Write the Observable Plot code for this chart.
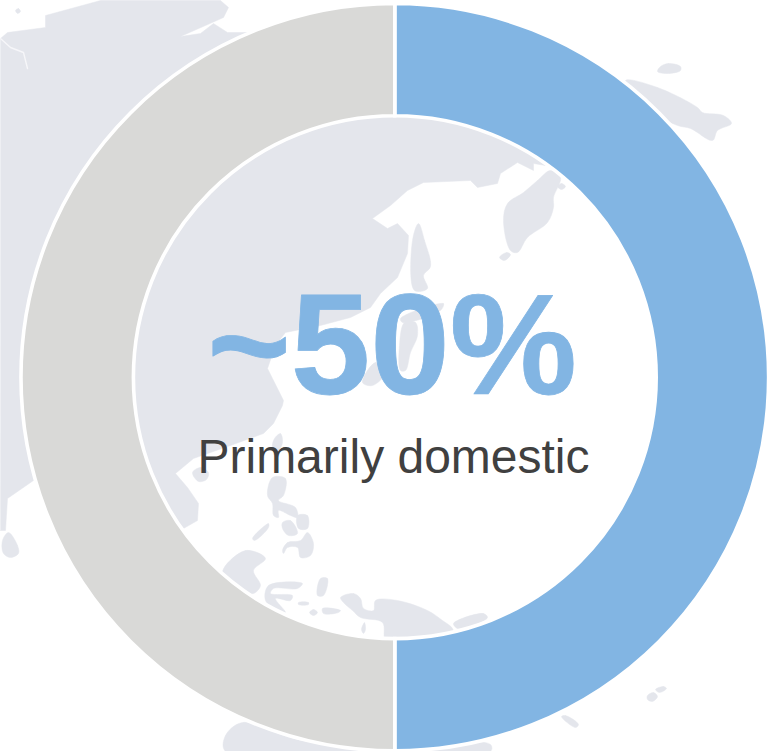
<!DOCTYPE html>
<html>
<head>
<meta charset="utf-8">
<style>html,body{margin:0;padding:0;background:#fff}svg{display:block}</style>
<script src="https://cdn.jsdelivr.net/npm/d3@7"></script>
<script src="https://cdn.jsdelivr.net/npm/@observablehq/plot@0.6"></script>
</head>
<body>
<div id="chart"></div>
<script>
const categories = ["Primarily domestic", "Other"];
const shares = [50, 50];
const sliceColors = ["#82b5e3", "#d9d9d7"];
const headline = "~50%";
const subhead = "Primarily domestic";

const eurasia = [[0,38],[7,32],[45,27],[45,15],[100,0],[220,0],[228,7],[223,17],[205,25],[180,36],[200,33],[213,23],[227,32],[247,32],[300,40],[395,60],[545,165],[533,163],[533,170],[517,162],[500,173],[497,183],[477,187],[470,180],[423,182],[407,190],[390,205],[372,218],[387,228],[397,223],[408,235],[407,253],[397,277],[380,293],[370,307],[350,317],[320,325],[305,328],[285,332],[275,345],[267,368],[272,378],[283,400],[282,405],[273,423],[263,433],[230,445],[210,452],[193,458],[175,473],[187,487],[198,503],[197,520],[183,528],[150,510],[33,480],[7,498],[5,530],[0,530]];
const korea = [[418,223],[424,240],[430,266],[423,275],[427,288],[414,290],[412,240]];
const kyushu = [[404,322],[415,322],[417,335],[410,352],[405,370],[400,370],[399,345]];
const ryukyu = [[400,318],[443,303],[440,310],[402,322]];
const shoal = [[362,382],[375,362],[385,372],[372,385]];
const sakhalin = [[550,170],[537,180],[523,192],[507,203],[503,220],[510,250],[517,252],[527,237],[547,222],[553,207],[553,197],[560,177]];
const kamchatka = [[625,80],[657,87],[697,107],[702,112],[723,115],[731,123],[717,130],[712,140],[690,128],[677,125],[650,110]];
const srilanka = [[8,532],[17,545],[18,553],[10,557],[3,553],[2,540]];
const luzon = [[272,477],[285,478],[283,495],[278,500],[295,507],[297,517],[290,515],[278,510],[278,517],[273,515],[272,503],[267,495]];
const samar = [[297,515],[307,515],[307,528],[298,528]];
const panay = [[282,522],[290,520],[297,533],[288,535],[282,528]];
const mindanao = [[282,550],[287,542],[300,540],[307,532],[313,543],[310,555],[300,557],[297,547],[287,547],[283,553]];
const palawan = [[252,538],[268,523],[268,527],[254,540]];
const borneo = [[222,572],[245,550],[265,558],[253,570],[260,585],[253,593],[240,590]];
const sulawesi = [[265,600],[268,585],[302,583],[297,588],[273,588],[270,593],[292,595],[290,600],[275,598],[285,612],[277,610]];
const halmahera = [[320,578],[327,578],[323,595],[317,595]];
const timor = [[322,608],[340,610],[338,612],[323,613]];
const sumba = [[298,602],[308,602],[308,604],[298,604]];
const guinea = [[340,597],[353,593],[360,598],[363,608],[373,610],[375,600],[397,600],[427,610],[442,620],[452,628],[452,634],[400,645],[385,640],[382,622],[360,617],[352,610],[343,602]];
const britain = [[453,623],[483,613],[487,617],[473,625],[457,628]];
const australia = [[225,751],[225,735],[242,722],[300,740],[395,745],[490,744],[490,751]];
const hainan = [[192,472],[200,467],[208,472],[206,479],[198,481]];
const taiwan = [[274,438],[280,433],[282,442],[277,451],[272,447]];
const northIsles = [[660,66],[668,63],[680,66],[680,70],[668,73],[657,71]];
const sakhalinDot = [[499,257],[506,252],[510,254],[504,260]];
const kurilDot = [[557,186],[561,183],[565,186],[561,189]];
const solomonA = [[561,716],[565,715],[578,724],[575,727]];
const solomonB = [[647,695],[653,692],[657,696],[652,701],[647,699]];
const solomonC = [[655,689],[663,686],[666,688],[659,692]];
const celebesDot = [[309,612],[313,609],[317,612],[313,615]];
const arafuraDot = [[361,629],[364,622],[365,629],[363,633]];
const arcticDot = [[15,10],[18,8],[20,11],[17,13]];
const gulf = [[0,38],[10,47],[23,52],[27,68]];

const coast = {eurasia};
const islands = {korea,kyushu,ryukyu,shoal,sakhalin,kamchatka,srilanka,luzon,samar,panay,mindanao,palawan,borneo,sulawesi,halmahera,timor,sumba,guinea,britain,australia,hainan,taiwan,northIsles,sakhalinDot,kurilDot,solomonA,solomonB,solomonC,celebesDot,arafuraDot,arcticDot};
const rows = o => Object.entries(o).flatMap(([name, pts]) => pts.map(([x, y]) => ({name, x, y})));

const centerX = 394.8, centerY = 377.2, outerR = 373.7, innerR = 261.4;
const landColor = "#e4e6ec";

function donut(index, {x, y}) {
  const arc = d3.arc().innerRadius(x(innerR) - x(0)).outerRadius(x(outerR) - x(0));
  const pie = d3.pie().sort(null)(shares);
  const g = d3.create("svg:g").attr("transform", `translate(${x(centerX)},${y(centerY)})`);
  g.selectAll("path").data(pie).join("path")
    .attr("d", arc)
    .attr("fill", (d, i) => sliceColors[i])
    .attr("stroke", "#fff")
    .attr("stroke-width", 3.6)
    .append("title").text((d, i) => `${categories[i]}: ${shares[i]}%`);
  return g.node();
}

const chart = Plot.plot({
  width: 781, height: 751, margin: 0,
  style: {background: "#fff", overflow: "hidden"},
  x: {domain: [0, 781], range: [0, 781], axis: null},
  y: {domain: [0, 751], range: [0, 751], axis: null},
  marks: [
    Plot.line(rows(coast), {x: "x", y: "y", z: "name", fill: landColor, stroke: landColor, strokeWidth: 0.5, curve: "linear-closed"}),
    Plot.line(rows(islands), {x: "x", y: "y", z: "name", fill: landColor, stroke: landColor, strokeWidth: 0.5, curve: "catmull-rom-closed"}),
    Plot.line(gulf, {x: d => d[0], y: d => d[1], stroke: "#f6f6f9", strokeWidth: 1.4}),
    donut,
    Plot.text([headline], {x: () => 391.5, y: () => 393.5, text: d => d, fill: "#82b5e3", stroke: "#82b5e3", strokeWidth: 0.8, fontSize: 143, fontWeight: 700, fontFamily: "Liberation Sans", textAnchor: "middle", lineAnchor: "bottom"}),
    Plot.text([subhead], {x: () => 393, y: () => 472, text: d => d, fill: "#404040", fontSize: 48, fontFamily: "Liberation Sans", textAnchor: "middle", lineAnchor: "bottom"})
  ]
});
document.getElementById("chart").append(chart);
</script>
</body>
</html>
